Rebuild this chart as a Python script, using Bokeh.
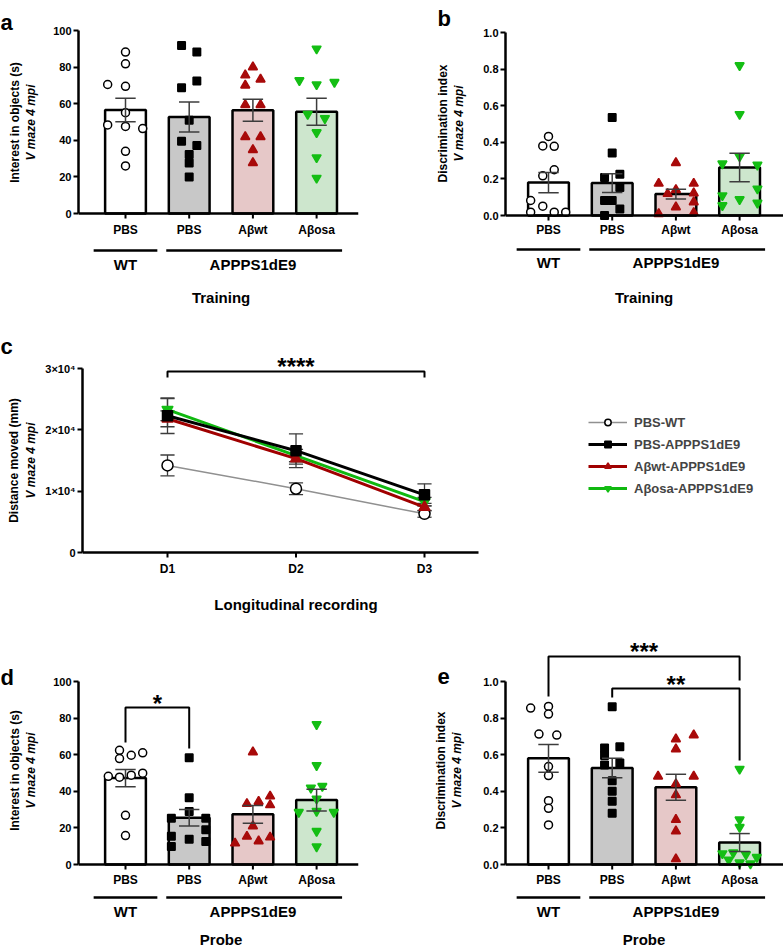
import math
from bokeh.plotting import figure
from bokeh.models import Range1d, FixedTicker, Legend, LegendItem, NumeralTickFormatter
from bokeh.layouts import column, row
from bokeh.embed import file_html
from bokeh.resources import INLINE
from bokeh.core.properties import value

FONT = "Liberation Sans"

# ---------------- data ----------------
groups = ["PBS", "PBS", "Aβwt", "Aβosa"]
genotypes = ["WT", "APPPS1dE9"]
series_names = ["PBS-WT", "PBS-APPPS1dE9", "Aβwt-APPPS1dE9", "Aβosa-APPPS1dE9"]

# panel a : training, interest in objects (s)
a_mean = [56.6, 52.7, 56.4, 55.6]
a_sem = [6.4, 8.2, 6.0, 7.4]
a_pbs_wt = [88.2, 81.8, 70.5, 69.5, 55.1, 48.4, 47.6, 46.4, 34.0, 26.0]
a_pbs_app = [91.8, 88.2, 72.4, 68.7, 50.9, 39.5, 37.1, 32.2, 27.6, 20.0]
a_abwt = [80.0, 75.6, 73.3, 70.0, 59.4, 59.4, 41.9, 41.9, 34.8, 27.7]
a_abosa = [90.0, 72.7, 70.5, 71.8, 54.3, 52.0, 44.3, 30.6, 19.4]
a_jitter = [[0, 0, -0.28, 0, 0, -0.28, 0, 0.27, 0, 0],
            [-0.12, 0.12, 0.12, -0.12, 0, -0.12, 0.12, 0, 0, 0],
            [0, -0.12, 0.12, -0.12, -0.12, 0.12, -0.12, 0.12, 0, 0],
            [0, -0.27, 0, 0.28, -0.14, 0.13, 0, 0, 0]]

# panel b : training, discrimination index
b_mean = [0.18, 0.177, 0.117, 0.262]
b_sem = [0.055, 0.051, 0.027, 0.078]
b_pbs_wt = [0.432, 0.38, 0.378, 0.25, 0.217, 0.082, 0.051, 0.018, 0.018, 0.018]
b_pbs_app = [0.535, 0.341, 0.226, 0.208, 0.153, 0.082, 0.082, 0.036, 0.0]
b_abwt = [0.288, 0.175, 0.175, 0.14, 0.119, 0.122, 0.073, 0.046, 0.009, 0.015]
b_abosa = [0.82, 0.553, 0.323, 0.283, 0.277, 0.146, 0.109, 0.088, 0.069, 0.055]
b_jitter = [[0, -0.09, 0.09, 0.09, -0.09, -0.28, -0.09, -0.28, 0.09, 0.27],
            [0, 0, 0.12, -0.12, 0.12, -0.12, 0, 0.12, -0.12],
            [0, -0.27, 0.28, 0, -0.13, 0.28, 0.28, 0, -0.27, 0.28],
            [0, 0, 0, -0.27, 0.28, 0.28, -0.27, 0, 0.28, -0.27]]

# panel c : distance moved (mm), longitudinal recording
days = ["D1", "D2", "D3"]
c_pbs_wt = [14200, 10400, 6300]
c_pbs_wt_sem = [1700, 950, 550]
c_pbs_app = [22300, 16600, 9400]
c_pbs_app_sem = [2900, 2750, 1800]
c_abwt = [21800, 15300, 7400]
c_abwt_sem = [1300, 900, 600]
c_abosa = [23300, 15800, 8300]
c_abosa_sem = [1800, 1000, 700]
c_yticks = [0, 10000, 20000, 30000]
c_ytick_labels = ["0", "1×10⁴", "2×10⁴", "3×10⁴"]

# panel d : probe, interest in objects (s)
d_mean = [47.2, 25.5, 27.4, 35.2]
d_sem = [4.7, 4.5, 4.85, 5.9]
d_pbs_wt = [62.4, 57.9, 59.7, 61.0, 48.2, 47.7, 48.8, 49.9, 26.9, 15.8]
d_pbs_app = [58.4, 36.5, 29.0, 25.3, 25.3, 19.0, 15.5, 13.8, 12.6, 9.8]
d_abwt = [61.4, 33.2, 34.4, 37.3, 32.5, 21.0, 15.3, 12.8, 14.9, 11.6]
d_abosa = [76.6, 54.2, 41.9, 42.8, 35.9, 28.6, 29.2, 28.6, 18.2, 9.8]
d_jitter = [[-0.094, -0.094, 0.09, 0.27, -0.27, -0.094, 0.09, 0.27, 0, 0],
            [0, 0, 0, -0.28, 0.26, 0.26, -0.28, 0, 0.26, -0.28],
            [0, -0.094, 0.09, 0.27, 0.27, 0, -0.094, 0.09, 0.27, -0.28],
            [0, 0, -0.09, 0.09, 0, -0.28, 0, 0.27, 0, 0]]

# panel e : probe, discrimination index
e_mean = [0.58, 0.527, 0.422, 0.12]
e_sem = [0.076, 0.053, 0.071, 0.049]
e_pbs_wt = [0.855, 0.864, 0.822, 0.713, 0.707, 0.535, 0.486, 0.349, 0.307, 0.216]
e_pbs_app = [0.862, 0.636, 0.644, 0.595, 0.544, 0.555, 0.458, 0.40, 0.345, 0.28]
e_abwt = [0.685, 0.707, 0.631, 0.482, 0.482, 0.44, 0.38, 0.245, 0.182, 0.03]
e_abosa = [0.522, 0.245, 0.204, 0.06, 0.065, 0.055, 0.04, 0.025, 0.01, 0.005]
e_jitter = [[-0.28, 0, 0, -0.15, 0.13, 0, 0, 0, 0, 0],
            [0, -0.12, 0.12, -0.12, -0.12, 0.12, 0, 0, 0, 0],
            [0, 0.28, 0, -0.28, 0.28, 0, 0, 0, 0, 0],
            [0, 0, 0, -0.27, -0.1, 0.1, 0.27, -0.17, 0, 0.17]]

# ---------------- styles ----------------
bar_colors = ["#ffffff", "#c8c8c8", "#e6c8c8", "#cde6cd"]
marker_types = ["circle", "square", "triangle", "inverted_triangle"]
marker_sizes = [8, 7.5, 9, 9]
marker_fill = ["#ffffff", "#000000", "#a80a0a", "#14be14"]
marker_line = ["#000000", "#000000", "#a80a0a", "#14be14"]
line_colors = ["#909090", "#000000", "#a00000", "#10b810"]
ERR = "#3c3c3c"


def base_style(p):
    p.outline_line_color = None
    p.grid.visible = False
    p.background_fill_color = "white"
    p.border_fill_color = "white"
    p.frame_align = False


def style_axis(ax, size="11px"):
    ax.axis_line_width = 2.5
    ax.axis_line_color = "black"
    ax.major_tick_line_width = 2
    ax.major_tick_line_color = "black"
    ax.major_tick_in = 0
    ax.major_tick_out = 5
    ax.minor_tick_line_color = None
    ax.major_label_standoff = 2
    ax.major_label_text_font = FONT
    ax.major_label_text_font_style = "bold"
    ax.major_label_text_font_size = size
    ax.major_label_text_color = "black"


def txt(p, x, y, t, size, style="bold", **kw):
    kw.setdefault("text_align", "center")
    kw.setdefault("text_baseline", "middle")
    p.text(x=x, y=y, text=t, text_font=value(FONT), text_font_style=style,
           text_font_size=size, text_color="black", **kw)


def strip(ox, oy, W, H, ylabel, lab_x, lab_y, letter, letter_xy):
    """left strip holding the panel letter and the two-line y title (page-pixel data space)"""
    p = figure(width=W, height=H, x_range=Range1d(ox, ox + W), y_range=Range1d(-(oy + H), -oy),
               output_backend="svg", toolbar_location=None,
               x_axis_location=None, y_axis_location=None,
               min_border_left=0, min_border_right=0, min_border_top=0, min_border_bottom=0)
    base_style(p)
    txt(p, [lab_x[0]], [-lab_y], [ylabel], "12px", angle=math.pi / 2)
    txt(p, [lab_x[1]], [-lab_y], ["V maze 4 mpi"], "12px", style="bold italic", angle=math.pi / 2)
    txt(p, [letter_xy[0]], [-letter_xy[1]], [letter], "22px",
        text_align="left", text_baseline="alphabetic")
    return p


def bar_panel(ox, oy, W, H, frame, y0, ppu, c1, sp, yticks, ytop, yfmt,
              mean, sem, pts, jits, sub, caption, sigs):
    fl, fr, ft, fb = frame
    X = lambda px: 1 + (px - c1) / sp
    Y = lambda py: (y0 - py) / ppu
    p = figure(width=W, height=H, x_range=Range1d(X(fl), X(fr)),
               y_range=Range1d(Y(fb), Y(ft)), output_backend="svg",
               toolbar_location=None, x_axis_location=None,
               min_border_left=fl - ox, min_border_right=ox + W - fr,
               min_border_top=ft - oy, min_border_bottom=oy + H - fb)
    base_style(p)
    ax = p.yaxis[0]
    style_axis(ax)
    ax.ticker = FixedTicker(ticks=yticks)
    ax.bounds = (0, ytop)
    if yfmt is not None:
        ax.formatter = yfmt

    xs = [1, 2, 3, 4]
    p.vbar(x=xs, top=mean, bottom=0, width=0.64, fill_color=bar_colors,
           line_color="black", line_width=2.5)
    for i in range(4):
        p.scatter(x=[xs[i] + j for j in jits[i]], y=pts[i], marker=marker_types[i],
                  size=marker_sizes[i], fill_color=marker_fill[i],
                  line_color=marker_line[i], line_width=1.5)
    lo = [m - s for m, s in zip(mean, sem)]
    hi = [m + s for m, s in zip(mean, sem)]
    p.segment(x0=xs, y0=lo, x1=xs, y1=hi, line_color=ERR, line_width=1.5)
    cap = 0.16
    p.segment(x0=[x - cap for x in xs] * 2, y0=lo + hi, x1=[x + cap for x in xs] * 2,
              y1=lo + hi, line_color=ERR, line_width=1.5)

    # category axis at y = 0
    p.segment(x0=[X(fl)], y0=[0], x1=[X(fr)], y1=[0], line_color="black", line_width=2.5)
    p.segment(x0=xs, y0=[0] * 4, x1=xs, y1=[Y(y0 + 5)] * 4, line_color="black", line_width=2)
    txt(p, xs, [Y(y0 + sub[0])] * 4, groups, "12px")
    p.segment(x0=[0.5, 1.64], y0=[Y(y0 + sub[1])] * 2, x1=[1.5, 4.4], y1=[Y(y0 + sub[1])] * 2,
              line_color="black", line_width=2.5)
    txt(p, [1, 3], [Y(y0 + sub[2])] * 2, genotypes, "15px")
    txt(p, [2.5], [Y(y0 + sub[3])], [caption], "15px")

    for (t, xa, xb, ybar, yla, ylb, ytx) in sigs:
        p.line(x=[xa, xa, xb, xb], y=[Y(yla), Y(ybar), Y(ybar), Y(ylb)],
               line_color="black", line_width=2)
        txt(p, [(xa + xb) / 2], [Y(ytx)], [t], "24px", y_offset=6)
    return p


# ---------------- row 1 ----------------
R1 = 330
sa = strip(0, 0, 46, R1, "Interest in objects (s)", (14, 30), 122, "a", (0, 22))
fa = bar_panel(46, 0, 344, R1, (78, 358, 30, R1), 213, 1.83, 125, 63.7,
               [0, 20, 40, 60, 80, 100], 100, None,
               a_mean, a_sem, [a_pbs_wt, a_pbs_app, a_abwt, a_abosa], a_jitter,
               (16, 37, 51, 84), "Training", [])
sb = strip(390, 0, 80, R1, "Discrimination index", (442, 458), 123, "b", (437, 18))
fb = bar_panel(470, 0, 313, R1, (505, 783, 32, R1), 215, 183, 548, 63.7,
               [0, 0.2, 0.4, 0.6, 0.8, 1.0], 1.0, NumeralTickFormatter(format="0.0"),
               b_mean, b_sem, [b_pbs_wt, b_pbs_app, b_abwt, b_abosa], b_jitter,
               (14, 34, 47, 82), "Training", [])

# ---------------- row 3 ----------------
sd = strip(0, 615, 46, 335, "Interest in objects (s)", (14, 30), 770, "d", (0, 677))
fd = bar_panel(46, 615, 344, 335, (78, 358, 681, 950), 864, 1.83, 125, 63.7,
               [0, 20, 40, 60, 80, 100], 100, None,
               d_mean, d_sem, [d_pbs_wt, d_pbs_app, d_abwt, d_abosa], d_jitter,
               (15, 33, 47, 75), "Probe",
               [("*", 1, 2, 707, 742, 748, 697)])
se = strip(390, 615, 80, 335, "Discrimination index", (440, 456), 770, "e", (437, 676))
fe = bar_panel(470, 615, 313, 335, (505, 783, 630, 950), 864, 183, 548, 63.7,
               [0, 0.2, 0.4, 0.6, 0.8, 1.0], 1.0, NumeralTickFormatter(format="0.0"),
               e_mean, e_sem, [e_pbs_wt, e_pbs_app, e_abwt, e_abosa], e_jitter,
               (15, 33, 47, 75), "Probe",
               [("***", 1, 4, 656, 696, 680, 645), ("**", 2, 4, 688, 697, 760, 678)])

# ---------------- panel c ----------------
ox, oy, W, H = 39, R1, 744, 615 - R1
fl, fr, ft, fbm = 82, 783, 350, 615
c_y0, c_ppu, c_d1, c_sp = 552, (552 - 368) / 30000, 167, 128.5
CX = lambda px: 1 + (px - c_d1) / c_sp
CY = lambda py: (c_y0 - py) / c_ppu

sc = strip(0, R1, 39, H, "Distance moved (mm)", (13, 30), 460, "c", (0, 346))
fc = figure(width=W, height=H, x_range=Range1d(CX(fl), CX(fr)), y_range=Range1d(CY(fbm), CY(ft)),
            output_backend="svg", toolbar_location=None, x_axis_location=None,
            min_border_left=fl - ox, min_border_right=ox + W - fr,
            min_border_top=ft - oy, min_border_bottom=oy + H - fbm)
base_style(fc)
ya = fc.yaxis[0]
style_axis(ya)
ya.ticker = FixedTicker(ticks=c_yticks)
ya.major_label_overrides = dict(zip(c_yticks, c_ytick_labels))
ya.bounds = (0, 30000)

xd = [1, 2, 3]
# x axis at y = 0
fc.segment(x0=[CX(fl)], y0=[0], x1=[CX(478)], y1=[0], line_color="black", line_width=2.5)
fc.segment(x0=xd, y0=[0] * 3, x1=xd, y1=[CY(c_y0 + 5)] * 3, line_color="black", line_width=2)
txt(fc, xd, [CY(568)] * 3, days, "12px")
txt(fc, [2], [CY(604)], ["Longitudinal recording"], "15px")

c_means = [c_pbs_wt, c_pbs_app, c_abwt, c_abosa]
c_sems = [c_pbs_wt_sem, c_pbs_app_sem, c_abwt_sem, c_abosa_sem]
capc = 0.055
for m, s in zip(c_means, c_sems):
    lo = [a - b for a, b in zip(m, s)]
    hi = [a + b for a, b in zip(m, s)]
    fc.segment(x0=xd, y0=lo, x1=xd, y1=hi, line_color=ERR, line_width=1.3)
    fc.segment(x0=[x - capc for x in xd] * 2, y0=lo + hi, x1=[x + capc for x in xd] * 2,
               y1=lo + hi, line_color=ERR, line_width=1.3)

line_widths = [1.5, 3, 3, 3]
c_sizes = [11, 10, 11, 11]
draw_order = [0, 3, 2, 1]
rends = {}
for i in draw_order:
    lr = fc.line(x=xd, y=c_means[i], line_color=line_colors[i], line_width=line_widths[i])
    sr = fc.scatter(x=xd, y=c_means[i], marker=marker_types[i], size=c_sizes[i],
                    fill_color=marker_fill[i], line_color=marker_line[i], line_width=1.5)
    rends[i] = [lr, sr]

fc.line(x=[1, 1, 3, 3], y=[CY(377), CY(371), CY(371), CY(377)], line_color="black", line_width=2)
txt(fc, [2], [CY(360)], ["****"], "24px", y_offset=6)

legend = Legend(items=[LegendItem(label=series_names[i], renderers=rends[i]) for i in range(4)],
                location=(588 - fl, fbm - 496), orientation="vertical",
                glyph_width=39, glyph_height=16, label_height=16, spacing=6,
                padding=0, margin=0, label_standoff=7,
                border_line_color=None, background_fill_alpha=0,
                label_text_font=FONT, label_text_font_style="bold",
                label_text_font_size="13px")
fc.add_layout(legend)

layout = column(row(sa, fa, sb, fb), row(sc, fc), row(sd, fd, se, fe))
open("out.html", "w").write(file_html(layout, INLINE))
